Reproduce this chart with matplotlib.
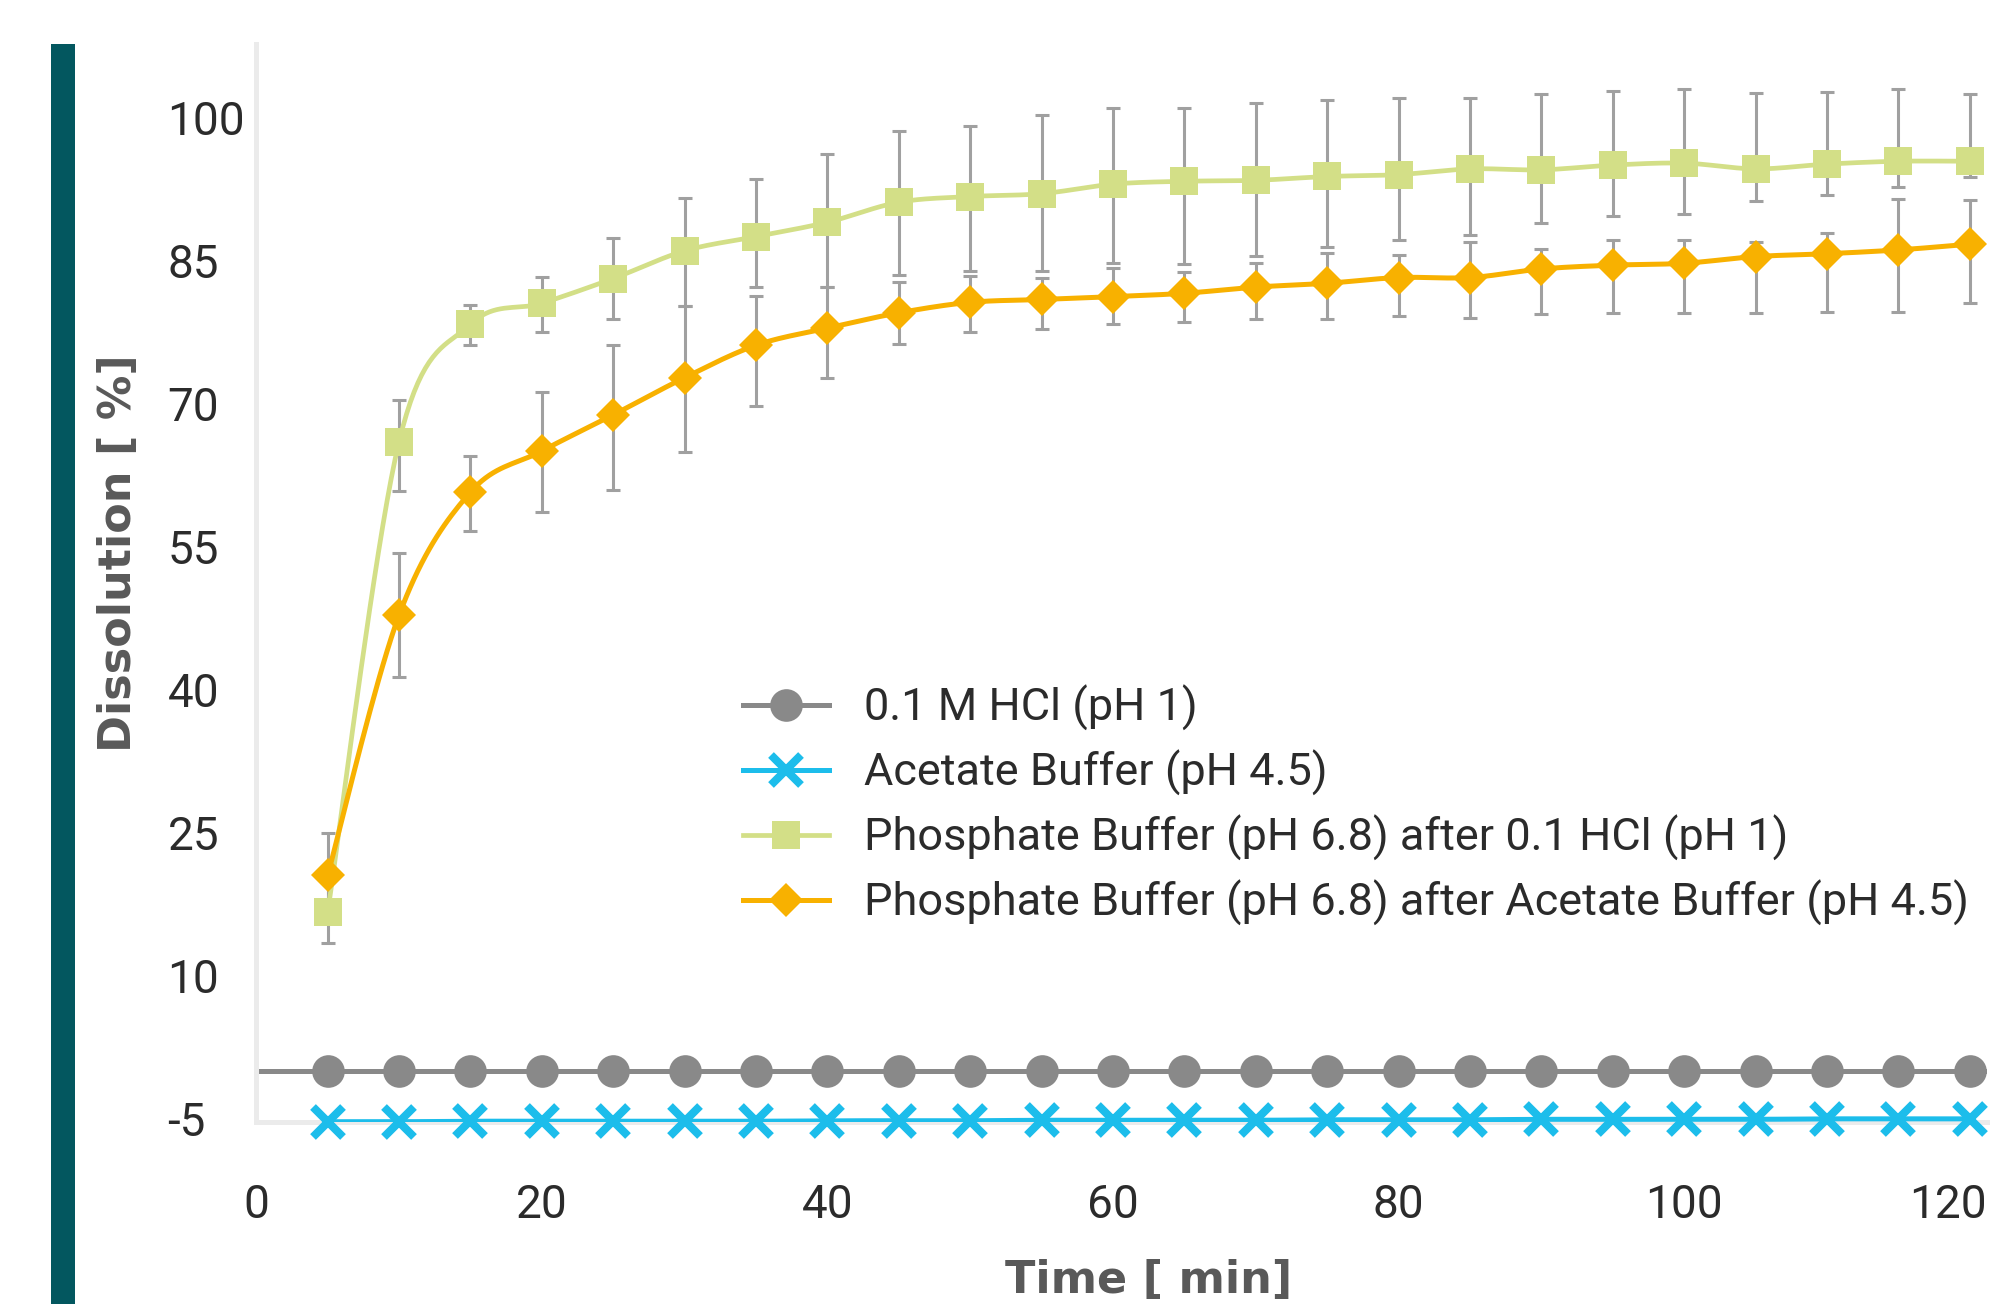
import numpy as np
import matplotlib
matplotlib.use("Agg")
import matplotlib.pyplot as plt
from matplotlib.lines import Line2D
from matplotlib.patches import Rectangle
from matplotlib.transforms import ScaledTranslation

plt.rcParams["axes.unicode_minus"] = False

# sampling times [min]
time_min = [5, 10, 15, 20, 25, 30, 35, 40, 45, 50, 55, 60,
            65, 70, 75, 80, 85, 90, 95, 100, 105, 110, 115, 120]

# 0.1 M HCl (pH 1)
hcl = [0.0] * 24

# Acetate buffer (pH 4.5)
acetate = [-5.35, -5.35, -5.3, -5.3, -5.3, -5.3, -5.3, -5.25, -5.25, -5.25, -5.2, -5.2,
           -5.2, -5.2, -5.15, -5.15, -5.15, -5.1, -5.1, -5.1, -5.1, -5.05, -5.05, -5.05]

# Phosphate buffer after HCl: mean, upper and lower error bar ends
phos_hcl = [16.6, 66.0, 78.3, 80.5, 83.1, 86.0, 87.5, 89.0, 91.1, 91.7, 92.0, 93.0,
            93.3, 93.4, 93.8, 94.0, 94.6, 94.5, 95.0, 95.2, 94.6, 95.1, 95.4, 95.4]
phos_hcl_hi = [19.8, 70.4, 80.3, 83.3, 87.3, 91.5, 93.5, 96.2, 98.6, 99.1, 100.2, 101.0,
               101.0, 101.5, 101.8, 102.0, 102.0, 102.5, 102.8, 103.0, 102.6, 102.7, 103.0, 102.5]
phos_hcl_lo = [13.4, 60.8, 76.1, 77.5, 78.9, 80.2, 82.2, 82.2, 83.5, 83.9, 83.9, 84.7,
               84.6, 85.5, 86.4, 87.1, 87.7, 88.9, 89.7, 89.9, 91.2, 91.9, 92.7, 93.7]

# Phosphate buffer after acetate
phos_ace = [20.5, 47.8, 60.7, 65.0, 68.8, 72.7, 76.1, 77.9, 79.5, 80.6, 80.9, 81.2,
            81.55, 82.2, 82.6, 83.2, 83.2, 84.1, 84.5, 84.7, 85.4, 85.7, 86.1, 86.7]
phos_ace_hi = [24.9, 54.3, 64.5, 71.2, 76.1, 80.2, 81.3, 82.2, 82.7, 83.4, 83.2, 84.2,
               83.8, 84.7, 85.8, 85.6, 86.9, 86.2, 87.1, 87.1, 86.9, 87.9, 91.4, 91.3]
phos_ace_lo = [16.5, 41.3, 56.6, 58.6, 60.9, 64.9, 69.7, 72.7, 76.2, 77.5, 77.8, 78.3,
               78.5, 78.8, 78.8, 79.2, 79.0, 79.4, 79.5, 79.5, 79.5, 79.6, 79.6, 80.5]

labels = ["0.1 M HCl (pH 1)",
          "Acetate Buffer (pH 4.5)",
          "Phosphate Buffer (pH 6.8) after 0.1 HCl (pH 1)",
          "Phosphate Buffer (pH 6.8) after Acetate Buffer (pH 4.5)"]

GRAY = "#898989"
CYAN = "#1CBDEB"
GREEN = "#D3DF87"
ORANGE = "#F8B100"
ERR = "#A0A0A0"
SPINE = "#EBEBEB"
TEAL = "#03575F"

TICK_FONT = ["Roboto", "DejaVu Sans"]
LABEL_FONT = ["DejaVu Sans"]


def smooth(x, y, n=20):
    # excel-like smoothed line (catmull-rom bezier)
    x = np.asarray(x, float)
    y = np.asarray(y, float)
    px = np.concatenate([[x[0]], x, [x[-1]]])
    py = np.concatenate([[y[0]], y, [y[-1]]])
    t = np.linspace(0, 1, n)[:, None]
    xs, ys = [], []
    for i in range(len(x) - 1):
        p0 = np.array([px[i], py[i]])
        p1 = np.array([px[i + 1], py[i + 1]])
        p2 = np.array([px[i + 2], py[i + 2]])
        p3 = np.array([px[i + 3], py[i + 3]])
        c1 = p1 + (p2 - p0) / 6
        c2 = p2 - (p3 - p1) / 6
        b = ((1 - t) ** 3) * p1 + 3 * ((1 - t) ** 2) * t * c1 + 3 * (1 - t) * t ** 2 * c2 + t ** 3 * p2
        xs.append(b[:, 0])
        ys.append(b[:, 1])
    return np.concatenate(xs), np.concatenate(ys)


def err(mean, hi, lo):
    m = np.asarray(mean)
    return [m - np.asarray(lo), np.asarray(hi) - m]


fig = plt.figure(figsize=(19.96, 13.04), dpi=100)
ax = fig.add_axes([0.1284, 0.13957, 0.8671, 0.8267])

fig.add_artist(Rectangle((51 / 1996, 0), 24 / 1996, 1 - 44 / 1304,
                         transform=fig.transFigure, color=TEAL, lw=0))

ax.axhline(0, color=GRAY, lw=3.6, zorder=2)

ebkw = dict(fmt="none", ecolor=ERR, elinewidth=2.2, capsize=5, capthick=2.2, zorder=2)
ax.errorbar(time_min, phos_hcl, yerr=err(phos_hcl, phos_hcl_hi, phos_hcl_lo), **ebkw)
ax.errorbar(time_min, phos_ace, yerr=err(phos_ace, phos_ace_hi, phos_ace_lo), **ebkw)

series = [
    (hcl, GRAY, "o", 23.5, 0, 3.6),
    (acetate, CYAN, "x", 21, 5.8, 3.6),
    (phos_hcl, GREEN, "s", 19.5, 0, 3.4),
    (phos_ace, ORANGE, "D", 17.5, 0, 3.6),
]

handles = []
for k, (vals, col, mk, ms, mew, lw) in enumerate(series):
    sx, sy = smooth(time_min, vals)
    ax.plot(sx, sy, color=col, lw=lw, zorder=3 + 2 * k, solid_capstyle="butt")
    ax.plot(time_min, vals, ls="none", marker=mk, ms=ms, color=col,
            mec=col, mew=mew, zorder=4 + 2 * k, clip_on=False)
    handles.append(Line2D([], [], color=col, lw=lw, marker=mk, ms=ms, mec=col, mew=mew))

ax.set_xlim(0, 121.2)
ax.set_ylim(-5.38, 107.7)
ax.set_xticks([0, 20, 40, 60, 80, 100, 120])
ax.set_yticks([-5, 10, 25, 40, 55, 70, 85, 100])

for side in ["top", "right"]:
    ax.spines[side].set_visible(False)
for side in ["left", "bottom"]:
    ax.spines[side].set_color(SPINE)
    ax.spines[side].set_linewidth(3.6)

ax.tick_params(axis="both", length=0, labelsize=33, labelcolor="#2B2B2B")
ax.tick_params(axis="y", pad=64)
ax.tick_params(axis="x", pad=44)
for lab in ax.get_yticklabels():
    lab.set_horizontalalignment("left")
    lab.set_family(TICK_FONT)
xlabs = ax.get_xticklabels()
for lab in xlabs:
    lab.set_family(TICK_FONT)
# last label is pushed inward so it stays inside the figure
xlabs[-1].set_transform(xlabs[-1].get_transform()
                        + ScaledTranslation(-0.22, 0, fig.dpi_scale_trans))

ax.set_xlabel("Time [ min]", fontsize=32, fontweight="bold", color="#595959",
              family=LABEL_FONT, va="center")
ax.xaxis.set_label_coords(0.5156, -0.147)
ax.set_ylabel("Dissolution [ %]", fontsize=32, fontweight="bold", color="#595959",
              family=LABEL_FONT, va="center")
ax.yaxis.set_label_coords(-0.0794, 0.528)

ax.legend(handles, labels, loc="center left", bbox_to_anchor=(743 / 1996, 0.382),
          bbox_transform=fig.transFigure, frameon=False, borderpad=0, borderaxespad=0,
          handlelength=1.9, handletextpad=0.78, labelspacing=0.42,
          prop={"family": TICK_FONT, "size": 32.5}, labelcolor="#2B2B2B")

fig.savefig("out.png", dpi=100)
